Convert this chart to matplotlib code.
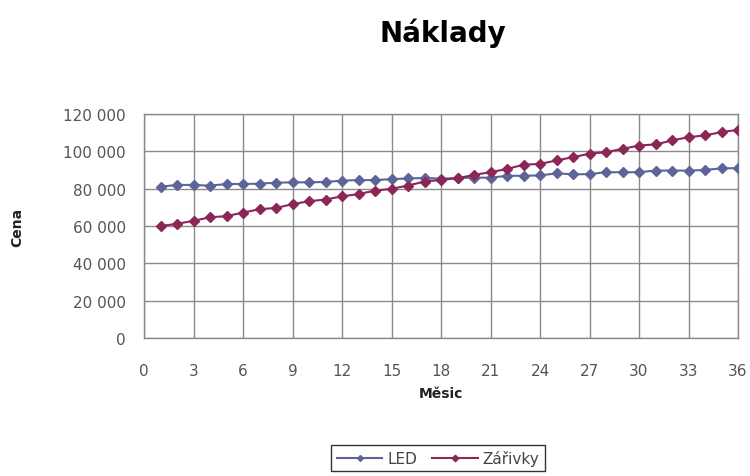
import matplotlib
matplotlib.use("Agg")
import matplotlib.pyplot as plt
from matplotlib.ticker import FuncFormatter

months = list(range(1, 37))
led = [81100, 82000, 82000, 81600, 82500, 82500, 82700, 83200, 83400, 83400,
       83600, 84300, 84600, 84600, 85100, 85500, 85700, 85400, 85700, 85900,
       85900, 86900, 86900, 87100, 88200, 87700, 87800, 88800, 88800, 88800,
       89700, 89700, 89700, 90000, 90900, 91000]
zarivky = [60000, 61200, 62800, 64700, 65300, 67200, 69000, 69700, 71700, 73300,
           74200, 75900, 77100, 79000, 79900, 81700, 83800, 84700, 85600, 87400,
           88800, 90600, 92800, 93300, 95100, 96900, 98700, 99600, 101300, 103100,
           103700, 105800, 107600, 108500, 110300, 111500]
series_names = ["LED", "Zářivky"]
xticks = list(range(0, 37, 3))
yticks = list(range(0, 120001, 20000))

fig = plt.figure(figsize=(7.5, 4.77), dpi=100)
ax = fig.add_axes([0.192, 0.289, 0.792, 0.470])

c_led = "#5d6497"
c_zar = "#8c2656"
ax.plot(months, led, color=c_led, marker="D", markersize=5, linewidth=1.5,
        label=series_names[0], zorder=3)
ax.plot(months, zarivky, color=c_zar, marker="D", markersize=5.5, linewidth=1.5,
        label=series_names[1], zorder=4)

ax.set_xlim(0, 36)
ax.set_ylim(0, 120000)
ax.set_xticks(xticks)
ax.set_yticks(yticks)
ax.yaxis.set_major_formatter(FuncFormatter(lambda v, p: f"{int(v):,}".replace(",", " ")))
ax.grid(True, color="#8a8a8a", linewidth=1.0)
ax.set_axisbelow(True)
for s in ax.spines.values():
    s.set_color("#8a8a8a")
    s.set_linewidth(1.0)
ax.tick_params(length=0, labelsize=11, labelcolor="#555555")
ax.tick_params(axis="y", pad=13)
ax.tick_params(axis="x", pad=18)

ax.set_xlabel("Měsic", fontsize=10, fontweight="bold", color="#222222", labelpad=6)
ax.set_ylabel("Cena", fontsize=10, fontweight="bold", color="#222222", labelpad=28)

fig.text(0.59, 0.931, "Náklady", fontsize=20, fontweight="bold", ha="center", va="center")

leg = fig.legend(loc="upper center", bbox_to_anchor=(0.584, 0.082), ncol=2, frameon=True,
                 fontsize=11, handlelength=3.0, columnspacing=1.0, borderpad=0.35,
                 handletextpad=0.3, markerscale=0.6, fancybox=False)
leg.get_frame().set_edgecolor("black")
leg.get_frame().set_linewidth(1.0)
for t in leg.get_texts():
    t.set_color("#444444")

fig.savefig("out.png", dpi=100)
